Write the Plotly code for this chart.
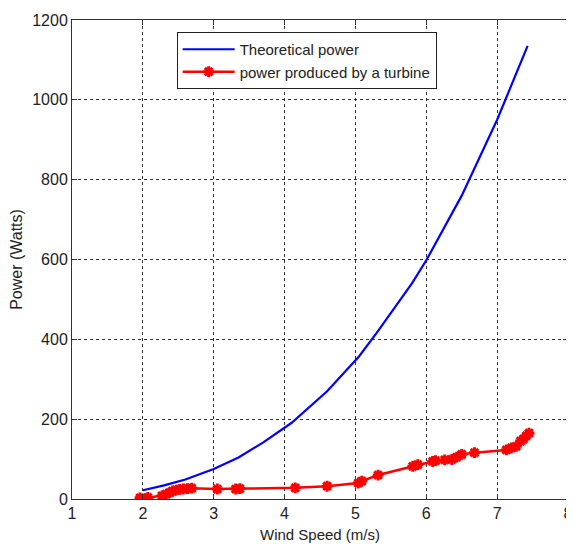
import plotly.graph_objects as go

# Theoretical power curve
theo_speed = [2.0, 2.3, 2.6, 3.0, 3.35, 3.7, 4.1, 4.6, 5.05, 5.3, 5.8, 6.0, 6.5, 7.0, 7.43]
theo_power = [22, 34, 49, 75, 104, 142, 191, 270, 357, 416, 541, 598, 760, 950, 1135]

# Power produced by a turbine
turb_speed = [1.96, 2.07, 2.27, 2.33, 2.38, 2.42, 2.47, 2.52, 2.57, 2.63, 2.69,
              3.05, 3.31, 3.37, 4.15, 4.6, 5.04, 5.09, 5.32, 5.81, 5.88,
              6.09, 6.13, 6.26, 6.36, 6.43, 6.5, 6.68, 7.13, 7.2, 7.27,
              7.33, 7.37, 7.41, 7.45]
turb_power = [3, 4, 8, 12, 16, 20, 22, 24, 25, 26, 27,
              25, 25, 26, 28, 32, 40, 45, 60, 82, 86,
              94, 96, 98, 99, 105, 112, 116, 123, 128, 132,
              145, 150, 158, 165]

x_ticks = [1, 2, 3, 4, 5, 6, 7, 8]
y_ticks = [0, 200, 400, 600, 800, 1000, 1200]

fig = go.Figure()
fig.add_trace(go.Scatter(
    x=theo_speed, y=theo_power, mode="lines", name="Theoretical power",
    line=dict(color="#0000FF", width=2.2)))
fig.add_trace(go.Scatter(
    x=turb_speed, y=turb_power, mode="lines+markers",
    name="power produced by a turbine",
    line=dict(color="#FF0000", width=2.5),
    marker=dict(symbol="asterisk-open", size=9, color="#FF0000",
                line=dict(color="#FF0000", width=3))))

axis_common = dict(
    showline=True, linecolor="#333333", linewidth=1, mirror="ticks",
    ticks="inside", ticklen=5, tickcolor="#333333",
    showgrid=True, gridcolor="#333333", griddash="dot", gridwidth=1,
    zeroline=False, tickfont=dict(size=16, color="#222222"),
    automargin=False, ticklabeloverflow="allow",
)

fig.update_xaxes(range=[1, 8], tickvals=x_ticks,
                 title=dict(text="Wind Speed (m/s)", font=dict(size=15, color="#222222"), standoff=8),
                 **axis_common)
fig.update_yaxes(range=[0, 1200], tickvals=y_ticks,
                 title=dict(text="Power (Watts)", font=dict(size=16, color="#222222"), standoff=10),
                 **axis_common)

fig.update_layout(
    width=566, height=536,
    margin=dict(l=64, r=6, t=12, b=45),
    paper_bgcolor="white", plot_bgcolor="white",
    font=dict(family="Liberation Sans, Arial, sans-serif", color="#222222"),
    legend=dict(x=0.211, y=0.975, xanchor="left", yanchor="top",
                bgcolor="white", bordercolor="#222222", borderwidth=1,
                font=dict(size=15), tracegroupgap=0, itemwidth=52),
    showlegend=True,
)

fig.write_html("out.html")
